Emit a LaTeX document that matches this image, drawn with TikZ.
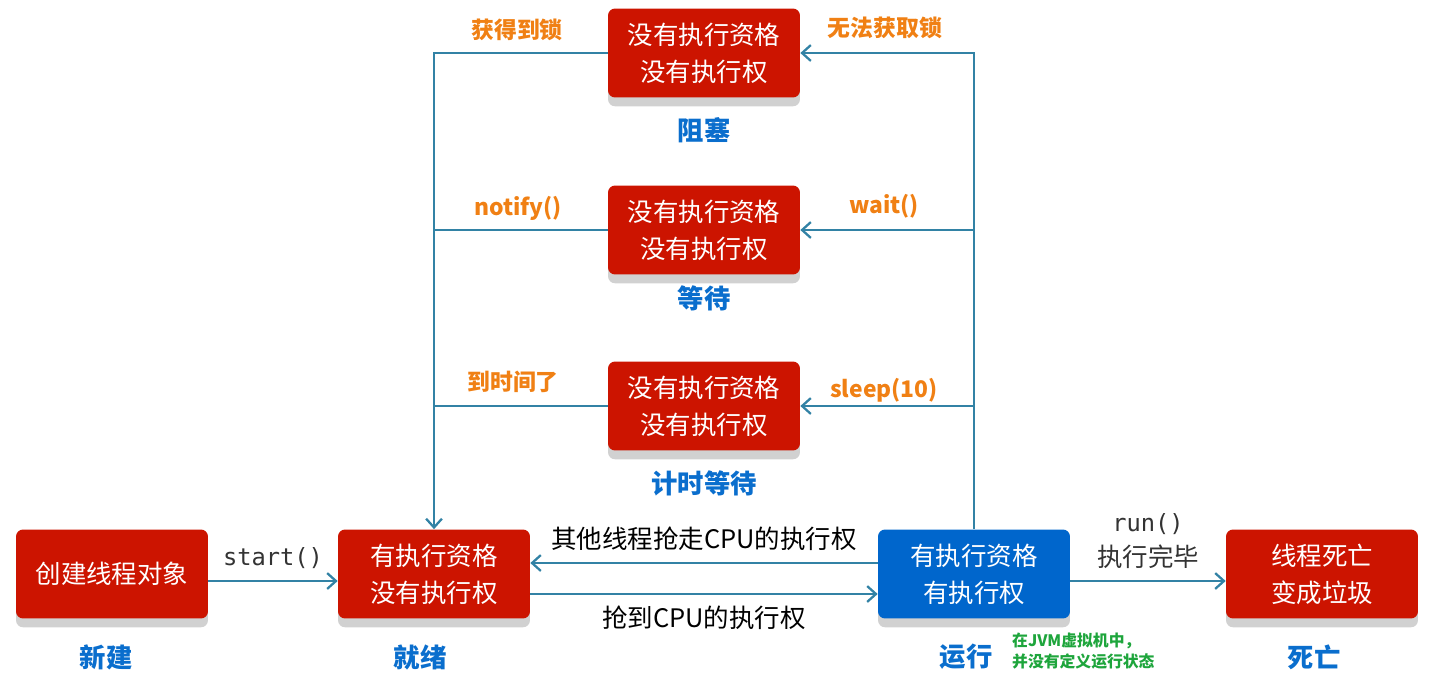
\documentclass[tikz,border=0pt]{standalone}
\usepackage{fontspec}
\setmainfont{Noto Sans CJK SC}
\setmonofont{DejaVu Sans Mono}
\newfontfamily\cjk{Noto Sans CJK SC}
\usetikzlibrary{arrows.meta, positioning, shadows, calc}
\definecolor{statered}{RGB}{204,20,0}
\definecolor{runblue}{RGB}{0,102,204}
\definecolor{linkteal}{RGB}{50,130,165}
\definecolor{labelorange}{RGB}{240,128,20}
\definecolor{tagblue}{RGB}{10,110,205}
\definecolor{notegreen}{RGB}{30,165,60}

\begin{document}
\begin{tikzpicture}[x=0.02cm, y=-0.02cm,
  statebox/.style={fill=statered, text=white, rounded corners=4pt, align=center,
    minimum width=3.84cm, minimum height=1.78cm, inner sep=0pt,
    font=\fontsize{14.5}{21}\selectfont,
    drop shadow={shadow xshift=0pt, shadow yshift=-5pt, fill=black!18, opacity=1}},
  tag/.style={text=tagblue, font=\fontsize{15}{18}\selectfont\bfseries},
  cond/.style={text=labelorange, font=\fontsize{13}{16}\selectfont\bfseries},
  note/.style={font=\fontsize{14.5}{20}\selectfont, align=center},
  link/.style={draw=linkteal, line width=1.3pt, -{Straight Barb[length=5pt, width=9pt]}}]
  \useasboundingbox (0,0) rectangle (1434,683);
  % the three waiting states
  \node[statebox] (block) at (704,53) {没有执行资格\\没有执行权};
  \node[statebox] (wait) at (704,230) {没有执行资格\\没有执行权};
  \node[statebox] (timed) at (704,406) {没有执行资格\\没有执行权};
  \node[tag] (tblock) at (704,130) {阻塞};
  \node[tag] (twait) at (704,298) {等待};
  \node[tag] (ttimed) at (704,483) {计时等待};
  % main line
  \node[statebox] (new) at (112,574) {创建线程对象};
  \node[statebox] (ready) at (434,574) {有执行资格\\没有执行权};
  \node[statebox, fill=runblue] (run) at (974,574) {有执行资格\\有执行权};
  \node[statebox] (dead) at (1322,574) {线程死亡\\变成垃圾};
  \node[tag] (tnew) at (106,657) {新建};
  \node[tag] (tready) at (420,657) {就绪};
  \node[tag] (trun) at (966,657) {运行};
  \node[tag] (tdead) at (1314,657) {死亡};
  \node[text=notegreen, font=\fontsize{9}{11.5}\selectfont\bfseries, align=left, anchor=west]
    (jvm) at (1006,651) {在JVM虚拟机中，\\并没有定义运行状态};
  % connectors
  \draw[link] ($(new.east)+(0,7)$) -- ($(ready.west)+(0,7)$)
    node[midway, above=3pt, font=\fontsize{13.5}{16}\ttfamily, text=black!80] {start()};
  \draw[link] ($(ready.east)+(0,20)$) -- ($(run.west)+(0,20)$)
    node[midway, below=3pt, note] {抢到CPU的执行权};
  \draw[link] ($(run.west)+(0,-11)$) -- ($(ready.east)+(0,-11)$)
    node[midway, above=3pt, note] {其他线程抢走CPU的执行权};
  \draw[link] ($(run.east)+(0,7)$) -- ($(dead.west)+(0,7)$)
    node[midway, above=3pt, note, text=black!80]
    {{\fontsize{13.5}{16}\ttfamily run()}\\执行完毕};
  \draw[link] (block.west) -| (ready.north);
  \draw[link, -] (wait.west) -- (wait.west -| ready.north);
  \draw[link, -] (timed.west) -- (timed.west -| ready.north);
  \draw[link] (run.north) |- (block.east);
  \draw[link] (wait.east -| run.north) -- (wait.east);
  \draw[link] (timed.east -| run.north) -- (timed.east);
  % orange conditions
  \node[cond] at (517,30) {获得到锁};
  \node[cond] at (885,28) {无法获取锁};
  \node[cond] at (518,208) {notify()};
  \node[cond] at (884,206) {wait()};
  \node[cond] at (513,382) {到时间了};
  \node[cond] at (884,390) {sleep(10)};
\end{tikzpicture}
\end{document}
